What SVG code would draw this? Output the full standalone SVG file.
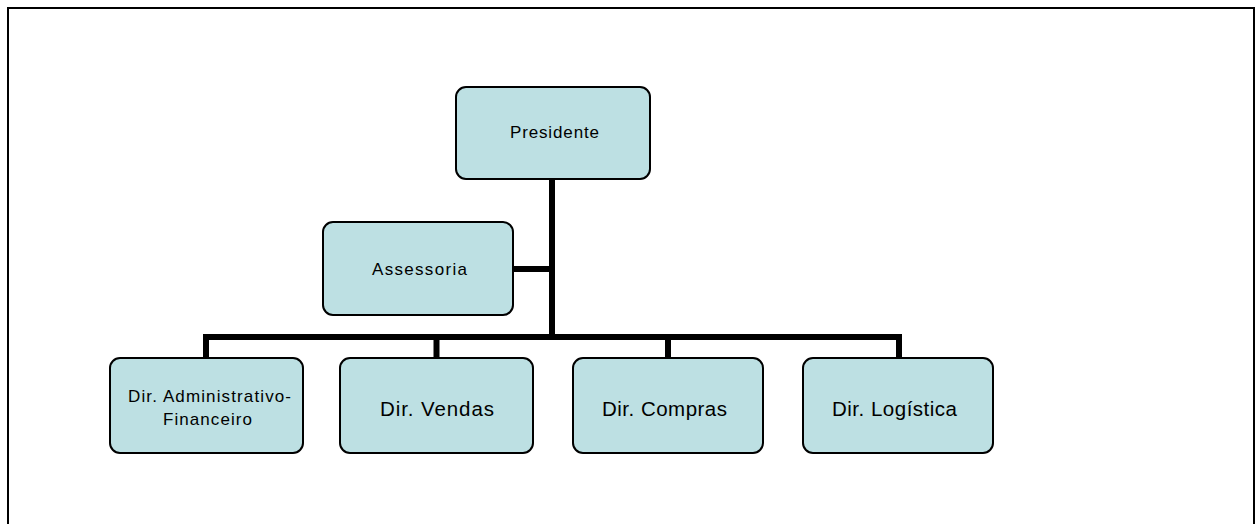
<svg xmlns="http://www.w3.org/2000/svg" width="1255" height="524" viewBox="0 0 1255 524">
  <style>
    .box { fill: #bde0e3; stroke: #000; stroke-width: 2; }
    .lbl { font-family: "Liberation Sans", Arial, sans-serif; fill: #000; text-anchor: middle; }
    .s17 { font-size: 17px; }
    .s20 { font-size: 20.5px; }
    .link { fill: none; stroke: #000; stroke-width: 6; stroke-linecap: butt; }
  </style>

  <rect x="0" y="0" width="1255" height="524" fill="#fff"/>
  <!-- page frame -->
  <path d="M8,530 V8 H1254 V530" fill="none" stroke="#000" stroke-width="2"/>

  <g id="connectors">
    <path class="link" d="M552,179 V340"/>
    <path class="link" d="M513,269 H555"/>
    <path class="link" d="M203,337 H902"/>
    <path class="link" d="M206,334 V358"/>
    <path class="link" d="M436.5,337 V358"/>
    <path class="link" d="M668,337 V358"/>
    <path class="link" d="M899,334 V358"/>
  </g>

  <g id="presidente">
    <rect class="box" x="456" y="87" width="194" height="92" rx="10"/>
    <text class="lbl s17" x="554.5" y="138" textLength="89" lengthAdjust="spacing">Presidente</text>
  </g>

  <g id="assessoria">
    <rect class="box" x="323" y="222" width="190" height="93" rx="10"/>
    <text class="lbl s17" x="419.5" y="275" textLength="95" lengthAdjust="spacing">Assessoria</text>
  </g>

  <g id="dir-adm-fin">
    <rect class="box" x="110" y="358" width="193" height="95" rx="10"/>
    <text class="lbl s17" x="209.5" y="402" textLength="163" lengthAdjust="spacing">Dir. Administrativo-</text>
    <text class="lbl s17" x="207.5" y="425" textLength="89" lengthAdjust="spacing">Financeiro</text>
  </g>

  <g id="dir-vendas">
    <rect class="box" x="340" y="358" width="193" height="95" rx="10"/>
    <text class="lbl s20" x="437" y="416" textLength="114" lengthAdjust="spacing">Dir. Vendas</text>
  </g>

  <g id="dir-compras">
    <rect class="box" x="573" y="358" width="190" height="95" rx="10"/>
    <text class="lbl s20" x="664.5" y="416" textLength="125" lengthAdjust="spacing">Dir. Compras</text>
  </g>

  <g id="dir-logistica">
    <rect class="box" x="803" y="358" width="190" height="95" rx="10"/>
    <text class="lbl s20" x="894.5" y="416" textLength="125" lengthAdjust="spacing">Dir. Logística</text>
  </g>
</svg>
